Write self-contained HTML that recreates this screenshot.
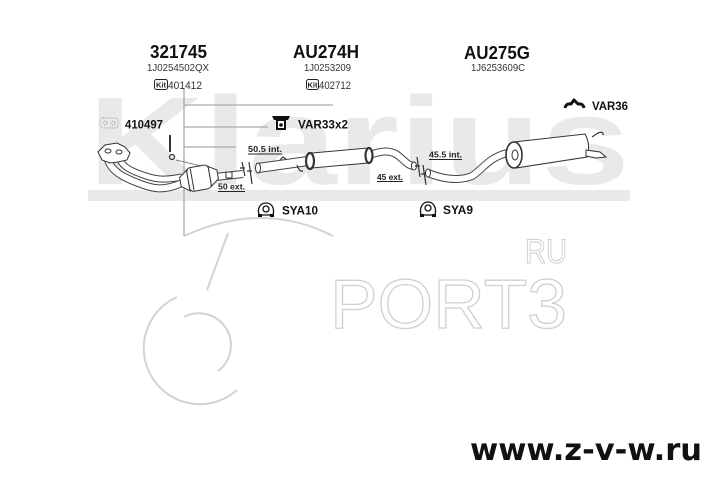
<!DOCTYPE html>
<html><head><meta charset="utf-8"><style>
html,body{margin:0;padding:0;background:#fff;}
body{width:719px;height:489px;overflow:hidden;}
svg{display:block;}
</style></head><body>
<svg width="719" height="489" viewBox="0 0 719 489" xmlns="http://www.w3.org/2000/svg">
<!-- Klarius watermark -->
<text x="88" y="184" font-family="Liberation Sans, sans-serif" font-weight="bold" font-size="125" fill="#e9e9e9" textLength="542" lengthAdjust="spacingAndGlyphs">Klarius</text>
<rect x="88" y="190" width="542" height="11" fill="#e9e9e9"/>

<!-- 6 / PORT3 watermark -->
<g stroke="#d3d3d3" stroke-width="2" fill="none">
<path d="M184,236 Q263,200 333,236"/>
<path d="M228,233 L207,290"/>
<path d="M177,297 A56,56 0 1 0 237,390"/>
<path d="M184,317 A32,32 0 0 1 218,371"/>
</g>
<text x="330" y="328" font-family="Liberation Sans, sans-serif" font-size="70" fill="none" stroke="#d0d0d0" stroke-width="1.3" textLength="237" lengthAdjust="spacingAndGlyphs">PORT3</text>
<text x="525" y="263" font-family="Liberation Sans, sans-serif" font-size="34" fill="none" stroke="#d0d0d0" stroke-width="1.1" textLength="42" lengthAdjust="spacingAndGlyphs">RU</text>

<!-- leader lines -->
<g stroke="#aaaaaa" stroke-width="1.3" fill="none">
<path d="M184,88 V236"/>
<path d="M184,105 H333"/>
<path d="M184,127 H268"/>
<path d="M184,147 H236"/>
<path d="M176,160 L214,169" stroke="#666" stroke-width="0.8"/>
</g>

<!-- titles -->
<g font-family="Liberation Sans, sans-serif" fill="#111">
<text x="150" y="58" font-size="18" font-weight="bold" textLength="57" lengthAdjust="spacingAndGlyphs">321745</text>
<text x="293" y="58" font-size="18" font-weight="bold" textLength="66" lengthAdjust="spacingAndGlyphs">AU274H</text>
<text x="464" y="59" font-size="18" font-weight="bold" textLength="66" lengthAdjust="spacingAndGlyphs">AU275G</text>
<text x="147" y="71" font-size="10.5" fill="#333" textLength="62" lengthAdjust="spacingAndGlyphs">1J0254502QX</text>
<text x="304" y="71" font-size="10.5" fill="#333" textLength="47" lengthAdjust="spacingAndGlyphs">1J0253209</text>
<text x="471" y="71" font-size="10.5" fill="#333" textLength="54" lengthAdjust="spacingAndGlyphs">1J6253609C</text>
<text x="168" y="89" font-size="11" fill="#333" textLength="34" lengthAdjust="spacingAndGlyphs">401412</text>
<text x="319" y="89" font-size="11" fill="#333" textLength="32" lengthAdjust="spacingAndGlyphs">402712</text>
</g>
<!-- kit boxes -->
<g>
<rect x="154.5" y="79.5" width="13" height="10" rx="2" fill="#fff" stroke="#222" stroke-width="1"/>
<text x="161" y="87.5" font-family="Liberation Sans, sans-serif" font-size="7.5" font-weight="bold" text-anchor="middle" fill="#222">Kit</text>
<rect x="306.5" y="79.5" width="12" height="10" rx="2" fill="#fff" stroke="#222" stroke-width="1"/>
<text x="312.5" y="87.5" font-family="Liberation Sans, sans-serif" font-size="7.5" font-weight="bold" text-anchor="middle" fill="#222">Kit</text>
</g>

<!-- part labels -->
<g font-family="Liberation Sans, sans-serif" font-weight="bold" font-size="12" fill="#111">
<text x="125" y="128.5" textLength="38" lengthAdjust="spacingAndGlyphs">410497</text>
<text x="298" y="128.5" textLength="50" lengthAdjust="spacingAndGlyphs">VAR33x2</text>
<text x="592" y="110" textLength="36" lengthAdjust="spacingAndGlyphs">VAR36</text>
<text x="282" y="214.5" textLength="36" lengthAdjust="spacingAndGlyphs">SYA10</text>
<text x="443" y="214" textLength="30" lengthAdjust="spacingAndGlyphs">SYA9</text>
</g>

<!-- icons -->
<g fill="none" stroke="#aaa" stroke-width="1" stroke-dasharray="1.5 1.2">
<rect x="100" y="118" width="18" height="10" rx="3"/>
<circle cx="105" cy="123" r="2"/><circle cx="113" cy="123" r="2"/>
</g>
<path d="M272,116 L290,116 L288,120 L286,120 L286,130 L276,130 L276,120 L274,120 Z" fill="#111"/>
<rect x="278" y="121" width="6" height="7" fill="#fff"/>
<circle cx="281" cy="125" r="1.8" fill="#111"/>
<path d="M565,108 Q566,103 571,104 L574,100 L578,104 Q583,103 584,108" fill="none" stroke="#111" stroke-width="3" stroke-linejoin="round"/>
<g fill="#fff" stroke="#111" stroke-width="1.3">
<path d="M259,215 C257,207 261,203 266,203 C271,203 275,207 273,215 Z"/>
<circle cx="266" cy="209" r="3"/>
</g>
<rect x="258" y="214" width="4" height="3" fill="#111"/><rect x="270" y="214" width="4" height="3" fill="#111"/>
<g fill="#fff" stroke="#111" stroke-width="1.3">
<path d="M421,215 C419,207 423,202 428,202 C433,202 437,207 435,215 Z"/>
<circle cx="428" cy="208" r="3"/>
</g>
<rect x="420" y="214" width="4" height="3" fill="#111"/><rect x="432" y="214" width="4" height="3" fill="#111"/>

<!-- dimension labels -->
<g font-family="Liberation Sans, sans-serif" font-weight="bold" font-size="8" fill="#222">
<text x="248" y="152" textLength="34" lengthAdjust="spacingAndGlyphs">50.5 int.</text>
<text x="218" y="189.5" textLength="27" lengthAdjust="spacingAndGlyphs">50 ext.</text>
<text x="377" y="180" textLength="26" lengthAdjust="spacingAndGlyphs">45 ext.</text>
<text x="429" y="157.5" textLength="33" lengthAdjust="spacingAndGlyphs">45.5 int.</text>
</g>
<g stroke="#222" stroke-width="0.9">
<line x1="248" y1="154" x2="282" y2="154"/>
<line x1="218" y1="191.5" x2="245" y2="191.5"/>
<line x1="377" y1="181.5" x2="403" y2="181.5"/>
<line x1="429" y1="159.5" x2="462" y2="159.5"/>
</g>

<!-- exhaust drawing -->
<g fill="none" stroke-linecap="butt">
<path d="M108,160 C112,172 125,178 138,183 S162,192 182,183" stroke="#444" stroke-width="8"/>
<path d="M108,160 C112,172 125,178 138,183 S162,192 182,183" stroke="#fff" stroke-width="6"/>
<path d="M120,160 C124,168 134,172 146,176 S166,180 182,177" stroke="#444" stroke-width="7"/>
<path d="M120,160 C124,168 134,172 146,176 S166,180 182,177" stroke="#fff" stroke-width="5"/>
<path d="M215,177 L243,174" stroke="#444" stroke-width="8"/>
<path d="M215,177 L243,174" stroke="#fff" stroke-width="6"/>
<path d="M258,168 L308,161" stroke="#444" stroke-width="10"/>
<path d="M258,168 L308,161" stroke="#fff" stroke-width="8"/>
<path d="M370,155 C383,150 392,150 400,157 S408,165 414,166" stroke="#444" stroke-width="8"/>
<path d="M370,155 C383,150 392,150 400,157 S408,165 414,166" stroke="#fff" stroke-width="6"/>
<path d="M428,173 C440,178 458,182 472,176 C482,170 488,158 507,153" stroke="#444" stroke-width="8"/>
<path d="M428,173 C440,178 458,182 472,176 C482,170 488,158 507,153" stroke="#fff" stroke-width="6"/>
</g>
<g stroke="#333" stroke-width="1" fill="#fff">
<path d="M98,152 L105,145 L117,143 L125,147 L130,153 L127,160 L118,162 L110,163 L102,160 Z"/>
<ellipse cx="108" cy="151" rx="3" ry="2"/><ellipse cx="119" cy="152" rx="3" ry="2"/>
<g transform="rotate(-10 200 178)">
<path d="M180,174 L188,168 L188,189 L180,183 Z"/>
<rect x="188" y="166" width="22" height="24" rx="4"/>
<path d="M210,168 L218,173 L218,182 L210,188 Z"/>
<line x1="192" y1="167" x2="192" y2="189"/>
</g>
<rect x="226" y="172" width="6" height="6"/>
<ellipse cx="258" cy="168" rx="2.5" ry="5"/>
<ellipse cx="414" cy="166" rx="2.5" ry="4"/>
<ellipse cx="428" cy="173" rx="2.5" ry="4"/>
<path d="M312,153 L368,148 L368,163 L312,168 Z"/>
<ellipse cx="310" cy="161" rx="4" ry="8" stroke-width="2.2"/>
<ellipse cx="369" cy="155.5" rx="3.5" ry="7.5" stroke-width="2.2"/>
<path d="M514,142 L585,134 Q591,145 587,157 L516,168 Z"/>
<ellipse cx="514" cy="155" rx="8" ry="13" stroke-width="1.6"/>
<ellipse cx="515" cy="155" rx="3" ry="5"/>
<path d="M586,150 L600,152 L606,157 L596,158 L586,156 Z"/>
</g>
<g stroke="#333" stroke-width="1.2" fill="none">
<path d="M170,135 V152" stroke-width="2"/>
<circle cx="172" cy="157" r="2.5"/>
<path d="M280,160 l3,-3 l3,2"/>
<path d="M297,165 q2,7 6,6"/>
<path d="M592,137 L598,133 Q604,131 603,135"/>
<path d="M242,162 L245,176"/><path d="M249,162 L252,184"/>
<path d="M240,168 h5 M247,171 h5"/>
<path d="M417,157 L420,177"/><path d="M423,165 L426,185"/>
<path d="M415,166 h5 M421,174 h5"/>
</g>

<!-- url -->
<text x="470" y="460" font-family="DejaVu Sans, sans-serif" font-weight="bold" font-size="30" fill="#111" textLength="232" lengthAdjust="spacingAndGlyphs">www.z-v-w.ru</text>
</svg>
</body></html>
